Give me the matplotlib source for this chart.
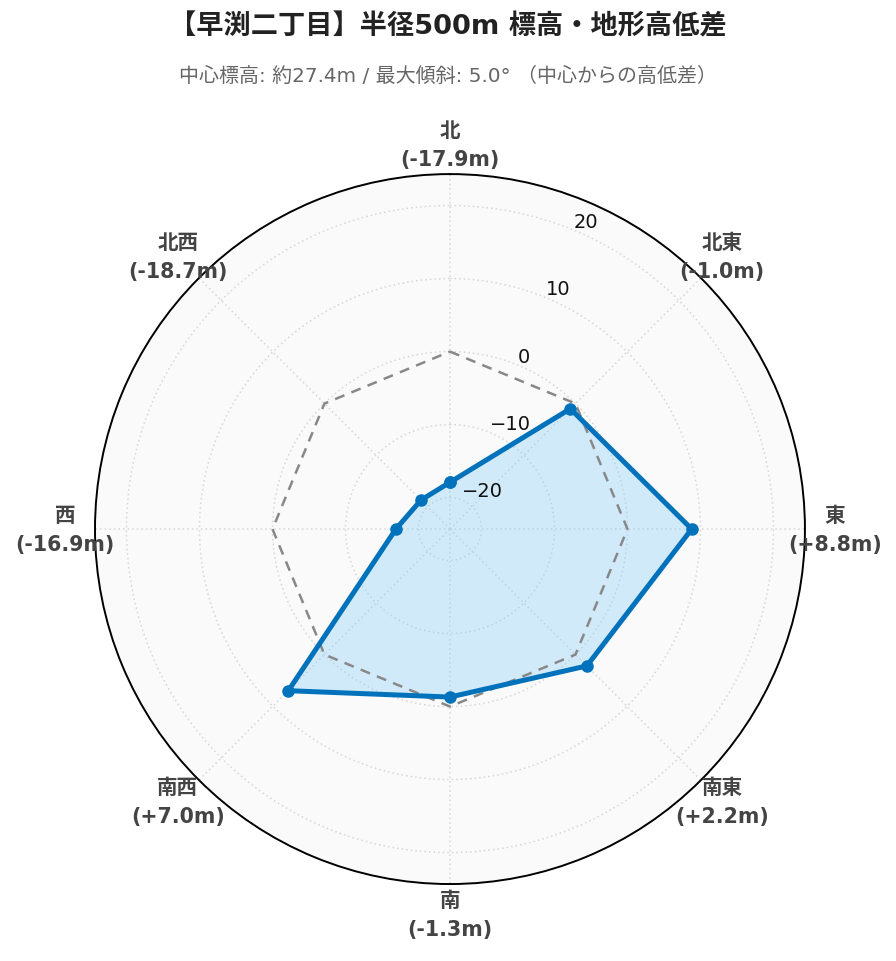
import numpy as np
import matplotlib
matplotlib.use("Agg")
import matplotlib.pyplot as plt
from matplotlib.transforms import offset_copy

plt.rcParams['font.family'] = ['DejaVu Sans', 'Noto Sans CJK JP']

# data
directions = ['北', '北東', '東', '南東', '南', '南西', '西', '北西']
angles_deg = [0, 45, 90, 135, 180, 225, 270, 315]
diffs = [-17.9, -1.0, 8.8, 2.2, -1.3, 7.0, -16.9, -18.7]
rticks = [-20, -10, 0, 10, 20]

title = '【早渕二丁目】半径500m 標高・地形高低差'
subtitle = '中心標高: 約27.4m / 最大傾斜: 5.0° （中心からの高低差）'

rmax = 1.3 * max(abs(v) for v in diffs)
rmin = -rmax

theta = np.radians(angles_deg + [angles_deg[0]])
vals = diffs + [diffs[0]]

fig = plt.figure(figsize=(8.96, 9.62), dpi=100)
ax = fig.add_axes([0.106, 0.080, 0.7924, 0.738], projection='polar')
ax.set_theta_zero_location('N')
ax.set_theta_direction(-1)
ax.set_ylim(rmin, rmax)
ax.set_facecolor('#fafafa')

# grid
ax.set_xticks(np.radians(angles_deg))
ax.set_xticklabels([])
ax.set_yticks(rticks)
ax.set_yticklabels([])
ax.grid(True, color='#d6d6d6', linestyle=(0, (1, 2)), linewidth=1.1)
ax.spines['polar'].set_color('black')
ax.spines['polar'].set_linewidth(1.4)
ax.tick_params(length=0)

# zero reference
ax.plot(theta, [0] * len(theta), color='#888888', linestyle='--',
        linewidth=1.8, dashes=(4, 3), zorder=3)

# data
ax.fill(theta, vals, color='#87cefa', alpha=0.35, zorder=2, linewidth=0)
ax.plot(theta, vals, color='#0072bb', linewidth=3.6, marker='o',
        markersize=8, zorder=4)

# radial tick labels
lab_ang = np.radians(22.5)
tr = offset_copy(ax.transData, fig=fig, x=0, y=9, units='dots')
for v in rticks:
    ax.text(lab_ang, v, f'{v}'.replace('-', '\u2212'), transform=tr,
            ha='left', va='center', fontsize=14, color='#111111', zorder=5)

# direction labels
r_lab = rmin + (rmax - rmin) * 385 / 355
tr_up = offset_copy(ax.transData, fig=fig, x=0, y=14.5, units='dots')
tr_dn = offset_copy(ax.transData, fig=fig, x=0, y=-14.5, units='dots')
for name, a, v in zip(directions, angles_deg, diffs):
    ax.text(np.radians(a), r_lab, name, transform=tr_up, ha='center',
            va='center', fontsize=14.8, fontweight='bold', color='#444444',
            clip_on=False)
    ax.text(np.radians(a), r_lab, f'({v:+.1f}m)'.replace('+-', '-'),
            transform=tr_dn, ha='center', va='center', fontsize=14.8,
            fontweight='bold', color='#444444', clip_on=False)

fig.text(0.5, 1 - 27 / 962, title, ha='center', va='center', fontsize=19.6,
         fontweight='bold', color='#222222')
fig.text(0.5, 1 - 76 / 962, subtitle, ha='center', va='center', fontsize=14.4,
         color='#666666')

fig.savefig('out.png', dpi=100, facecolor='white')
